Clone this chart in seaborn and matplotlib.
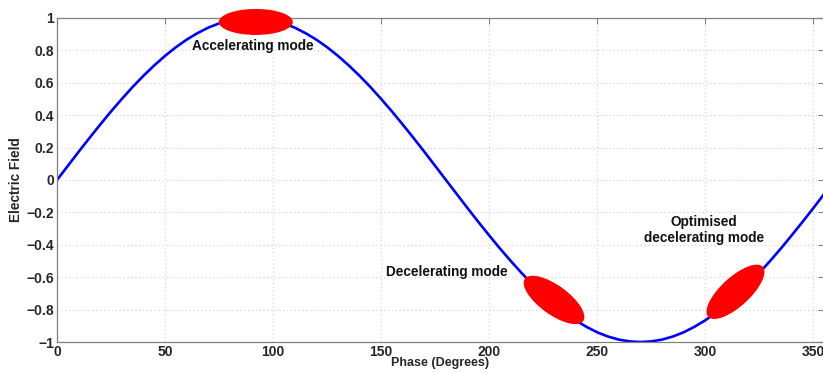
import matplotlib
matplotlib.use("Agg")
import matplotlib.pyplot as plt
import matplotlib.transforms as mtransforms
from matplotlib.patches import Ellipse
import seaborn as sns
import pandas as pd

# Phase in degrees, sampled every 5 degrees
phase = list(range(0, 360, 5))
# Electric field (normalised) at each phase sample
field = [
    0.000, 0.087, 0.174, 0.259, 0.342, 0.423, 0.500, 0.574, 0.643, 0.707,
    0.766, 0.819, 0.866, 0.906, 0.940, 0.966, 0.985, 0.996, 1.000, 0.996,
    0.985, 0.966, 0.940, 0.906, 0.866, 0.819, 0.766, 0.707, 0.643, 0.574,
    0.500, 0.423, 0.342, 0.259, 0.174, 0.087, 0.000, -0.087, -0.174, -0.259,
    -0.342, -0.423, -0.500, -0.574, -0.643, -0.707, -0.766, -0.819, -0.866, -0.906,
    -0.940, -0.966, -0.985, -0.996, -1.000, -0.996, -0.985, -0.966, -0.940, -0.906,
    -0.866, -0.819, -0.766, -0.707, -0.643, -0.574, -0.500, -0.423, -0.342, -0.259,
    -0.174, -0.087,
]

# Bunch positions (phase, field) and their labels
bunch_phase = [92, 230, 314]
bunch_field = [0.975, -0.74, -0.69]
mode_labels = ["Accelerating mode", "Decelerating mode", "Optimised\ndecelerating mode"]

x_ticks = [0, 50, 100, 150, 200, 250, 300, 350]
y_ticks = [-1, -0.8, -0.6, -0.4, -0.2, 0, 0.2, 0.4, 0.6, 0.8, 1]

sns.set_style("white")
plt.rcParams["font.family"] = ["Liberation Sans", "DejaVu Sans"]
plt.rcParams["font.weight"] = "bold"

fig = plt.figure(figsize=(8.23, 3.73), dpi=100)
ax = fig.add_axes([0.0693, 0.083, 0.932, 0.869])

df = pd.DataFrame({"Phase": phase, "Field": field})
sns.lineplot(data=df, x="Phase", y="Field", color="#0000ff", lw=1.9, ax=ax, zorder=2)

ax.set_xlim(0, 355)
ax.set_ylim(-1, 1)
ax.set_xticks(x_ticks)
ax.set_yticks(y_ticks)
ax.set_yticklabels(["\u22121", "\u22120.8", "\u22120.6", "\u22120.4", "\u22120.2",
                    "0", "0.2", "0.4", "0.6", "0.8", "1"])
ax.grid(True, linestyle=(0, (1, 2.5)), color="#cfcfcf", lw=0.8)
ax.tick_params(direction="in", length=4, width=0.8, color="#808080",
               top=True, right=True, labelsize=10, pad=2)
for lab in ax.get_xticklabels() + ax.get_yticklabels():
    lab.set_fontweight("bold")
for s in ax.spines.values():
    s.set_color("#808080")
    s.set_linewidth(0.9)

ax.set_xlabel("Phase (Degrees)", fontsize=9, fontweight="bold", labelpad=-1)
ax.set_ylabel("Electric Field", fontsize=9.8, fontweight="bold")
ax.yaxis.set_label_coords(-0.045, 0.5)

# Bunches drawn as ellipses of fixed screen size (inches), tilted along the wave
ell_sizes = [(0.74, 0.26, 0), (0.72, 0.29, -36), (0.74, 0.29, 42.5)]
for px, fy, (w, h, ang) in zip(bunch_phase, bunch_field, ell_sizes):
    tr = fig.dpi_scale_trans + mtransforms.ScaledTranslation(px, fy, ax.transData)
    ax.add_patch(Ellipse((0, 0), w, h, angle=ang, transform=tr, clip_on=False,
                         facecolor="#ff0000", edgecolor="none", zorder=3))

label_pos = [(90.5, 0.825), (180.5, -0.57), (299.5, -0.31)]
for (lx, ly), txt in zip(label_pos, mode_labels):
    ax.text(lx, ly, txt, ha="center", va="center", fontsize=9.8,
            fontweight="bold", color="#111111", zorder=4, linespacing=1.2)

fig.savefig("out.png", dpi=100)
